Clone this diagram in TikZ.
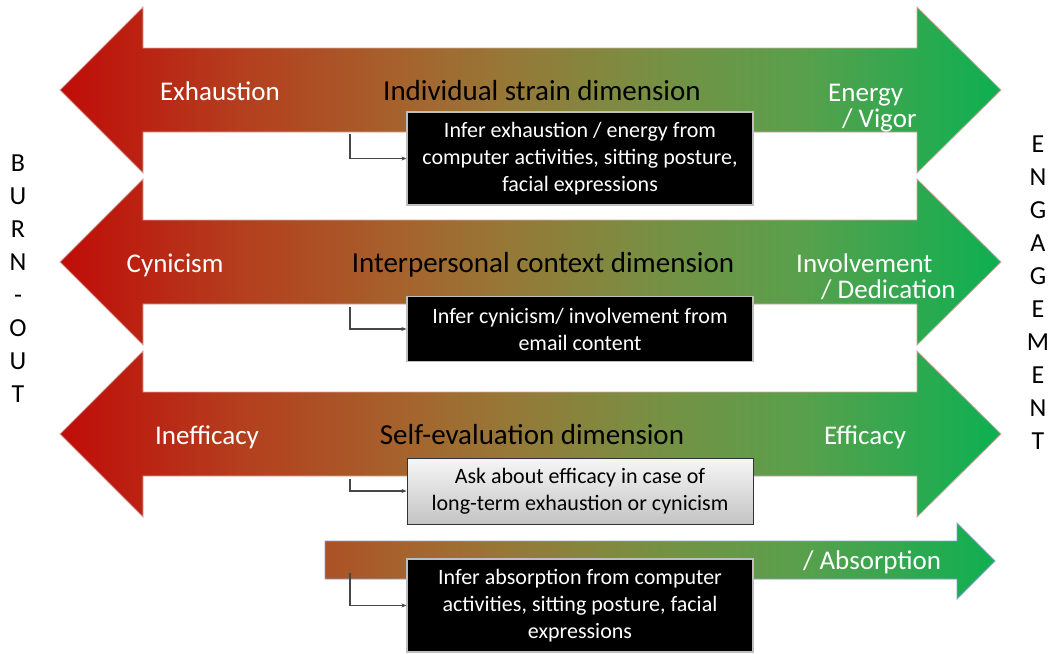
\documentclass[tikz,border=0pt]{standalone}
\usepackage{fontspec}
\setmainfont{Carlito}
\usetikzlibrary{arrows.meta}
\definecolor{g0}{RGB}{192,12,8}
\definecolor{g1}{RGB}{180,62,30}
\definecolor{g2}{RGB}{165,100,45}
\definecolor{g3}{RGB}{150,120,55}
\definecolor{g4}{RGB}{122,142,66}
\definecolor{g5}{RGB}{88,160,76}
\definecolor{g6}{RGB}{12,176,82}
\definecolor{outpink}{RGB}{215,165,160}
\definecolor{outblue}{RGB}{140,160,205}
\definecolor{boxgray}{RGB}{190,190,190}
\definecolor{conngray}{RGB}{70,70,70}
\definecolor{asktop}{RGB}{246,246,246}
\definecolor{askbot}{RGB}{196,196,196}
\pgfdeclarehorizontalshading{burnshade}{100bp}{color(0bp)=(g0); color(25bp)=(g0); color(34.5bp)=(g1); color(43.5bp)=(g2); color(48.75bp)=(g3); color(55.8bp)=(g4); color(64.5bp)=(g5); color(75bp)=(g6); color(100bp)=(g6)}
\newcommand\myfs[2]{\fontsize{#1}{#2}\selectfont}
\newcommand\dblarrowpath[1]{(60,#1) -- (143,#1-83) -- (143,#1-42) -- (917,#1-42) -- (917,#1-83) -- (1001,#1) -- (917,#1+83) -- (917,#1+42) -- (143,#1+42) -- (143,#1+83) -- cycle}
\newcommand\botarrowpath{(325,541) -- (957,541) -- (957,523) -- (995,561) -- (957,599) -- (957,579) -- (325,579) -- cycle}
\begin{document}
\begin{tikzpicture}[x=1pt,y=-1pt,
  lab/.style={text=white, font=\myfs{27}{26}, inner sep=0pt},
  dimt/.style={text=black, font=\myfs{29}{30}, inner sep=0pt},
  side/.style={text=black, font=\myfs{26}{33}, align=center, inner sep=0pt},
  infobox/.style={draw=boxgray, line width=1.2pt, fill=black, text=white, minimum width=346pt, align=center, font=\myfs{22}{27}, inner sep=0pt},
  askbox/.style={draw=black!80, line width=1pt, top color=asktop, bottom color=askbot, text=black, minimum width=346pt, align=center, font=\myfs{22}{27}, inner sep=0pt},
  conn/.style={draw=conngray, line width=1.2pt, -{Stealth[length=5pt,width=4pt]}},
  arrowline/.style={draw=outpink, line width=0.8pt}]
\useasboundingbox (0,0) rectangle (1048,653);
\fill[white] (0,0) rectangle (1048,653);
% three double arrows
\foreach \cy in {90,262,434}{
  \begin{scope}
    \clip \dblarrowpath{\cy};
    \shade[shading=burnshade] (60,0) rectangle (1001,653);
  \end{scope}
  \draw[arrowline] \dblarrowpath{\cy};
}
% bottom arrow
\begin{scope}
  \clip \botarrowpath;
  \shade[shading=burnshade] (60,0) rectangle (1001,653);
\end{scope}
\draw[draw=outblue, line width=0.8pt] \botarrowpath;
% labels
\node[lab, anchor=base] (exh) at (220,100) {Exhaustion};
\node[dimt, anchor=base] (dim1) at (542,100) {Individual strain dimension};
\node[lab, anchor=base west, align=left] (energy) at (828,127) {Energy\\\hspace*{14pt}/ Vigor};
\node[lab, anchor=base] (cyn) at (175,272) {Cynicism};
\node[dimt, anchor=base] (dim2) at (543,272) {Interpersonal context dimension};
\node[lab, anchor=base west, align=left] (invol) at (796,298) {Involvement\\\hspace*{25pt}/ Dedication};
\node[lab, anchor=base] (ineff) at (207,444) {Inefficacy};
\node[dimt, anchor=base] (dim3) at (532,444) {Self-evaluation dimension};
\node[lab, anchor=base] (eff) at (865,444) {Efficacy};
\node[lab, anchor=base] (absorb) at (872,569) {/ Absorption};
% side words
\node[side] (burn) at (18,279) {B\\U\\R\\N\\-\\O\\U\\T};
\node[side] (engage) at (1038,292.5) {E\\N\\G\\A\\G\\E\\M\\E\\N\\T};
% boxes
\node[infobox, minimum height=93pt] (b1) at (580,158.5) {Infer exhaustion / energy from\\computer activities, sitting posture,\\facial expressions};
\node[infobox, minimum height=65pt] (b2) at (580,329) {Infer cynicism/ involvement from\\email content};
\node[askbox, minimum height=66pt] (b3) at (580,491) {Ask about efficacy in case of\\long-term exhaustion or cynicism};
\node[infobox, minimum height=93pt] (b4) at (580,605.5) {Infer absorption from computer\\activities, sitting posture, facial\\expressions};
% connectors
\coordinate (s1) at (350,134);
\coordinate (s2) at (350,307);
\coordinate (s3) at (350,479);
\coordinate (s4) at (350,573);
\draw[conn] (s1) |- (b1.west);
\draw[conn] (s2) |- (b2.west);
\draw[conn] (s3) |- (b3.west);
\draw[conn] (s4) |- (b4.west);
\end{tikzpicture}
\end{document}
